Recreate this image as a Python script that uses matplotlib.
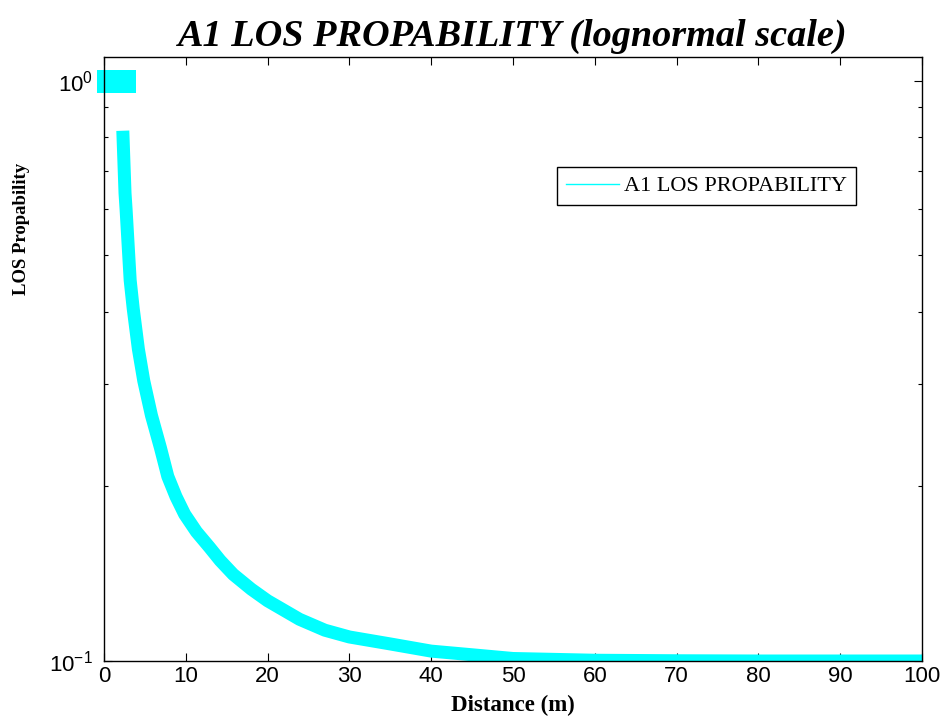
import numpy as np
import matplotlib.pyplot as plt
from matplotlib.lines import Line2D
from matplotlib.ticker import FixedLocator, NullFormatter

# LOS probability (distance in m)
d_flat = [0.5, 2.4]
p_flat = [1.0, 1.0]

d_curve = [2.3, 2.57, 2.7, 3.06, 3.2, 3.57, 4.2, 4.86, 5.8, 6.9, 7.8, 8.8, 9.86,
           11.3, 12.9, 14.2, 15.8, 18, 20, 23.9, 27, 30, 35, 40, 45, 50, 60,
           70, 80, 90, 100]
p_curve = [0.82, 0.64, 0.60, 0.49, 0.453, 0.405, 0.345, 0.304, 0.265, 0.233,
           0.208, 0.192, 0.179, 0.167, 0.157, 0.149, 0.141, 0.133, 0.127,
           0.118, 0.113, 0.110, 0.107, 0.104, 0.1025, 0.101, 0.1003, 0.1001,
           0.1, 0.1, 0.1]

xticks = np.arange(0, 101, 10)
yticks = [0.1, 1.0]
ytick_labels = [r"$\mathregular{10^{-1}}$", r"$\mathregular{10^{0}}$"]
yminor = [0.2, 0.3, 0.4, 0.5, 0.6, 0.7, 0.8, 0.9]

plt.rcParams["font.family"] = ["Liberation Sans", "DejaVu Sans"]
plt.rcParams["mathtext.default"] = "regular"

fig = plt.figure(figsize=(9.45, 7.2), dpi=100)
ax = fig.add_axes([104 / 945, 1 - 661 / 720, (922 - 104) / 945, (661 - 56.7) / 720])

cyan = "#00ffff"
# thick line: 23 px for the flat part, 13 px for the decaying part
ax.plot(d_flat, p_flat, color=cyan, linewidth=23 * 0.72,
        solid_capstyle="projecting", clip_on=False)
ax.plot(d_curve, p_curve, color=cyan, linewidth=13 * 0.72,
        solid_capstyle="butt", solid_joinstyle="round")

ax.set_yscale("log")
ax.set_xlim(0, 100)
ax.set_ylim(0.1, 1.1)

ax.set_xticks(xticks)
ax.set_xticklabels([str(t) for t in xticks])
ax.yaxis.set_major_locator(FixedLocator(yticks))
ax.set_yticklabels(ytick_labels)
ax.yaxis.set_minor_locator(FixedLocator(yminor))
ax.yaxis.set_minor_formatter(NullFormatter())
ax.tick_params(which="both", direction="in", top=True, right=True,
               labelsize=16, width=0.8)
ax.tick_params(which="major", length=6)
ax.tick_params(which="minor", length=3)
ax.tick_params(axis="y", pad=8)
for s in ax.spines.values():
    s.set_linewidth(1.0)

serif = ["Liberation Serif", "DejaVu Serif"]
ax.set_title("A1 LOS PROPABILITY (lognormal scale)", family=serif,
             fontsize=27.5, fontweight="bold", fontstyle="italic", pad=8)
ax.set_xlabel("Distance (m)", family=serif, fontsize=16.5, fontweight="bold",
              labelpad=6)
ax.set_ylabel("LOS Propability", family=serif, fontsize=13.5, fontweight="bold")
ax.yaxis.set_label_coords(-0.09, 1 - (229 - 56.7) / (661 - 56.7))

handle = Line2D([], [], color=cyan, linewidth=1)
leg = ax.legend([handle], ["A1 LOS PROPABILITY"], loc="upper left",
                bbox_to_anchor=(556.7 / 945, 1 - 167 / 720),
                bbox_transform=fig.transFigure, fancybox=False,
                edgecolor="black", framealpha=1, prop={"family": serif, "size": 16},
                handlelength=2.4, handletextpad=0.25, borderpad=0.4,
                borderaxespad=0)
leg.get_frame().set_linewidth(1.0)

fig.savefig("out.png", dpi=100)
